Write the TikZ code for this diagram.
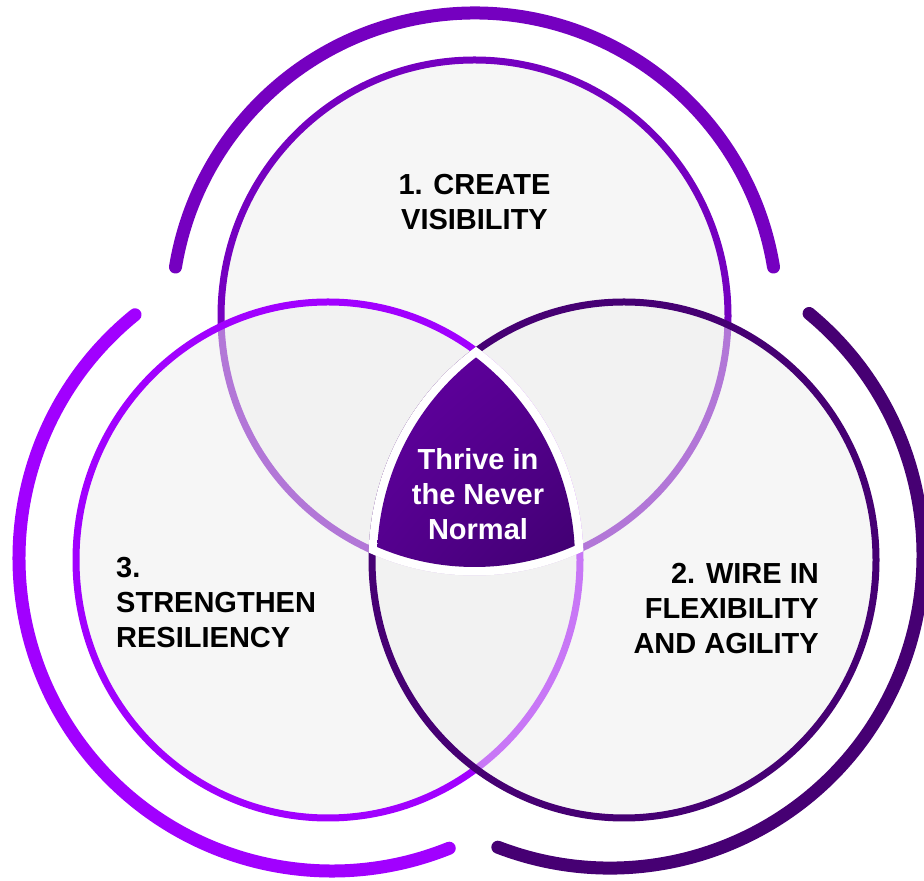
\documentclass[tikz,border=0pt]{standalone}
\usepackage{fontspec}
\setmainfont{Liberation Sans}
\usetikzlibrary{shadings}

\definecolor{toppurple}{HTML}{7500C0}
\definecolor{leftpurple}{HTML}{A100FF}
\definecolor{rightpurple}{HTML}{460073}
\definecolor{coretop}{HTML}{6600A8}
\definecolor{coremid}{HTML}{560090}
\definecolor{corebot}{HTML}{3A0068}
\definecolor{ringfill}{HTML}{EFEFEF}

\begin{document}
\begin{tikzpicture}[x=1pt, y=1pt,
		ring_style/.style={line width=7pt, fill=ringfill, fill opacity=0.5},
		arc_style/.style={line width=13pt, line cap=round},
		label_style/.style={inner sep=0pt, font=\fontsize{29}{35}\selectfont\bfseries}]
		
		\useasboundingbox (0,0) rectangle (924,881);
		\fill[white] (0,0) rectangle (924,881);
		
		\coordinate (c1) at (474.5,565);
		\coordinate (c2) at (624,321);
		\coordinate (c3) at (328,321);
		
		% outer arcs
		\draw[arc_style, toppurple] ([shift={(9.3:303)}]c1) arc[start angle=9.3, end angle=170.7, radius=303];
		\draw[arc_style, leftpurple] ([shift={(129:313)}]332,323) arc[start angle=129, end angle=292, radius=313];
		\draw[arc_style, rightpurple] ([shift={(-111:313)}]610,326) arc[start angle=-111, end angle=50.5, radius=313];
		
		% the three circles
		\draw[ring_style, draw=toppurple] (c1) ellipse [x radius=253.5, y radius=256];
		\draw[ring_style, draw=leftpurple] (c3) ellipse [x radius=252, y radius=258];
		\draw[ring_style, draw=rightpurple] (c2) ellipse [x radius=252, y radius=258];
		
		% core
		\begin{scope}
			\clip (c1) ellipse [x radius=257, y radius=259.5];
			\clip (c2) ellipse [x radius=255.5, y radius=261.5];
			\clip (c3) ellipse [x radius=255.5, y radius=261.5];
			\fill[white] (340,290) rectangle (610,545);
		\end{scope}
		\begin{scope}
			\clip (c1) ellipse [x radius=248.5, y radius=251];
			\clip (c2) ellipse [x radius=247, y radius=253];
			\clip (c3) ellipse [x radius=247, y radius=253];
			\shade[upper left=coretop, upper right=coremid, lower left=coremid, lower right=corebot] (340,290) rectangle (610,545);
		\end{scope}
		
		\node[label_style, align=center] (create) at (474.5,679) {1. CREATE\\VISIBILITY};
		\node[label_style, align=center, text=white] (thrive) at (478,387) {Thrive in\\the Never\\Normal};
		\node[label_style, align=left, anchor=west] (strengthen) at (116,278) {3.\\STRENGTHEN\\RESILIENCY};
		\node[label_style, align=right, anchor=east] (wire) at (819,272.5) {2. WIRE IN\\FLEXIBILITY\\AND AGILITY};
		
\end{tikzpicture}
\end{document}
